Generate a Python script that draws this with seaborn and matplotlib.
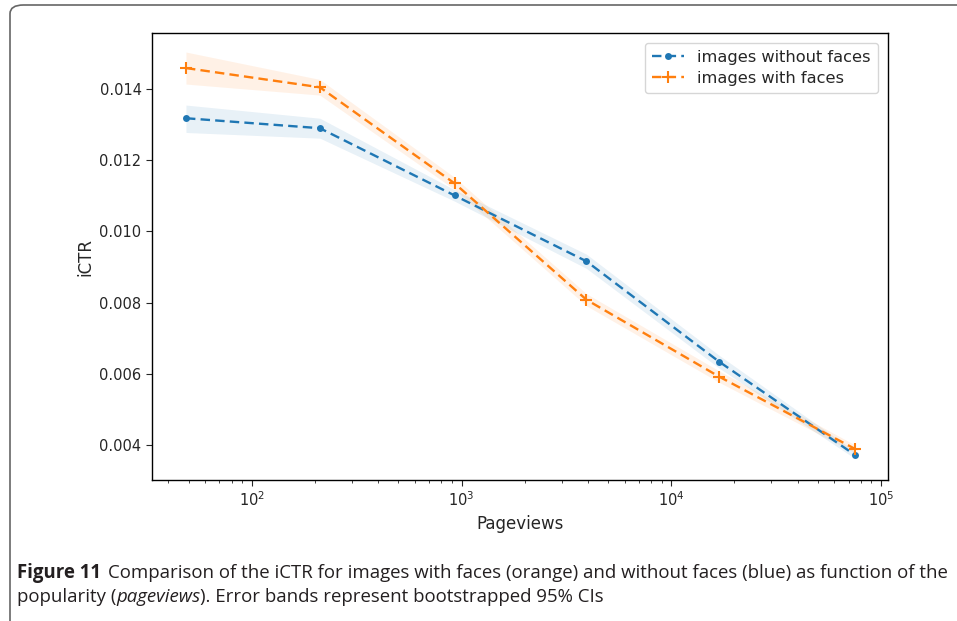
import numpy as np
import pandas as pd
import matplotlib
matplotlib.use("Agg")
import matplotlib.pyplot as plt
import seaborn as sns
from matplotlib.patches import FancyBboxPatch
from matplotlib.ticker import FormatStrFormatter

# ---- data ----
pageviews = [48.5, 211, 926, 3940, 16900, 75100]
ctr_without = [0.01318, 0.01290, 0.01101, 0.00916, 0.00634, 0.00372]
ctr_with = [0.01459, 0.01405, 0.01135, 0.00808, 0.00592, 0.00389]
ci_without_lo = [0.01278, 0.01262, 0.01085, 0.00896, 0.00616, 0.00362]
ci_without_hi = [0.01355, 0.01318, 0.01117, 0.00936, 0.00652, 0.00382]
ci_with_lo = [0.01414, 0.01383, 0.01118, 0.00791, 0.00576, 0.00378]
ci_with_hi = [0.01504, 0.01427, 0.01152, 0.00825, 0.00608, 0.00400]
labels = ["images without faces", "images with faces"]
colors = ["#1f77b4", "#ff7f0e"]
markers = [".", "+"]

sns.set_style("ticks")
plt.rcParams["font.family"] = ["DejaVu Sans"]

W, H = 957, 621
fig = plt.figure(figsize=(W / 100, H / 100), dpi=100)
ax = fig.add_axes([152 / W, 1 - 480 / H, (888 - 152) / W, (480 - 33) / H])

series = [(ctr_without, ci_without_lo, ci_without_hi), (ctr_with, ci_with_lo, ci_with_hi)]
for (vals, lo, hi), lab, col, mk in zip(series, labels, colors, markers):
    df = pd.DataFrame({"Pageviews": pageviews, "iCTR": vals})
    sns.lineplot(data=df, x="Pageviews", y="iCTR", ax=ax, color=col, linestyle=(0, (4.0, 2.2)),
                 marker=mk, markersize=9 if mk == "+" else 10,
                 markeredgewidth=1.5 if mk == "+" else 0, markeredgecolor=col,
                 linewidth=1.7, label=lab, errorbar=None)
    ax.fill_between(pageviews, lo, hi, color=col, alpha=0.1, linewidth=0)

ax.set_xscale("log")
ax.set_xlim(33.4, 108000)
ax.set_ylim(0.003015, 0.015575)
ax.set_yticks([0.004, 0.006, 0.008, 0.010, 0.012, 0.014])
ax.yaxis.set_major_formatter(FormatStrFormatter("%.3f"))
ax.tick_params(axis="both", which="major", labelsize=10.5, length=4)
ax.tick_params(axis="x", which="minor", length=2.2)
ax.set_xlabel("Pageviews", fontsize=12)
ax.set_ylabel("iCTR", fontsize=12)
for s in ax.spines.values():
    s.set_linewidth(1.0)
    s.set_color("black")

leg = ax.legend(loc="upper right", fontsize=11.7, frameon=True, borderpad=0.45,
                handlelength=2.0, labelspacing=0.35, borderaxespad=0.6)
leg.get_frame().set_edgecolor("#cccccc")

# outer rounded frame
box = FancyBboxPatch((10 / W, -0.03), 1.1, 1 - 5 / H + 0.03,
                     boxstyle="round,pad=0,rounding_size=0.014",
                     transform=fig.transFigure, facecolor="none",
                     edgecolor="#666666", linewidth=1.2, clip_on=False)
fig.patches.append(box)

# caption
cap_font = ["Liberation Sans Narrow", "Open Sans", "DejaVu Sans"]
cap_col = "#231f20"
line1_rest = "Comparison of the iCTR for images with faces (orange) and without faces (blue) as function of the"
y1, y2 = 1 - 573 / H, 1 - 597 / H
fs = 13.0
renderer = fig.canvas.get_renderer()
tmp1 = fig.text(0, 0, "Figure 11", fontsize=fs, fontweight="bold", family=cap_font)
tmp2 = fig.text(0, 0, line1_rest, fontsize=fs, family=cap_font)
wtot = tmp1.get_window_extent(renderer).width + 7 + tmp2.get_window_extent(renderer).width
tmp1.remove(); tmp2.remove()
fs = fs * (943 - 17) / wtot

t1 = fig.text(17 / W, y1, "Figure 11", fontsize=fs, fontweight="bold",
              family=cap_font, va="center", ha="left", color=cap_col)
bb = t1.get_window_extent(renderer)
fig.text((bb.x1 + 7) / W, y1, line1_rest,
         fontsize=fs, family=cap_font, va="center", ha="left", color=cap_col)
tA = fig.text(17 / W, y2, "popularity (", fontsize=fs, family=cap_font,
              va="center", ha="left", color=cap_col)
b = tA.get_window_extent(renderer)
tB = fig.text(b.x1 / W, y2, "pageviews", fontsize=fs, family=cap_font,
              style="italic", va="center", ha="left", color=cap_col)
b = tB.get_window_extent(renderer)
fig.text(b.x1 / W, y2, "). Error bands represent bootstrapped 95% CIs",
         fontsize=fs, family=cap_font, va="center", ha="left", color=cap_col)

fig.savefig("out.png", dpi=100)
